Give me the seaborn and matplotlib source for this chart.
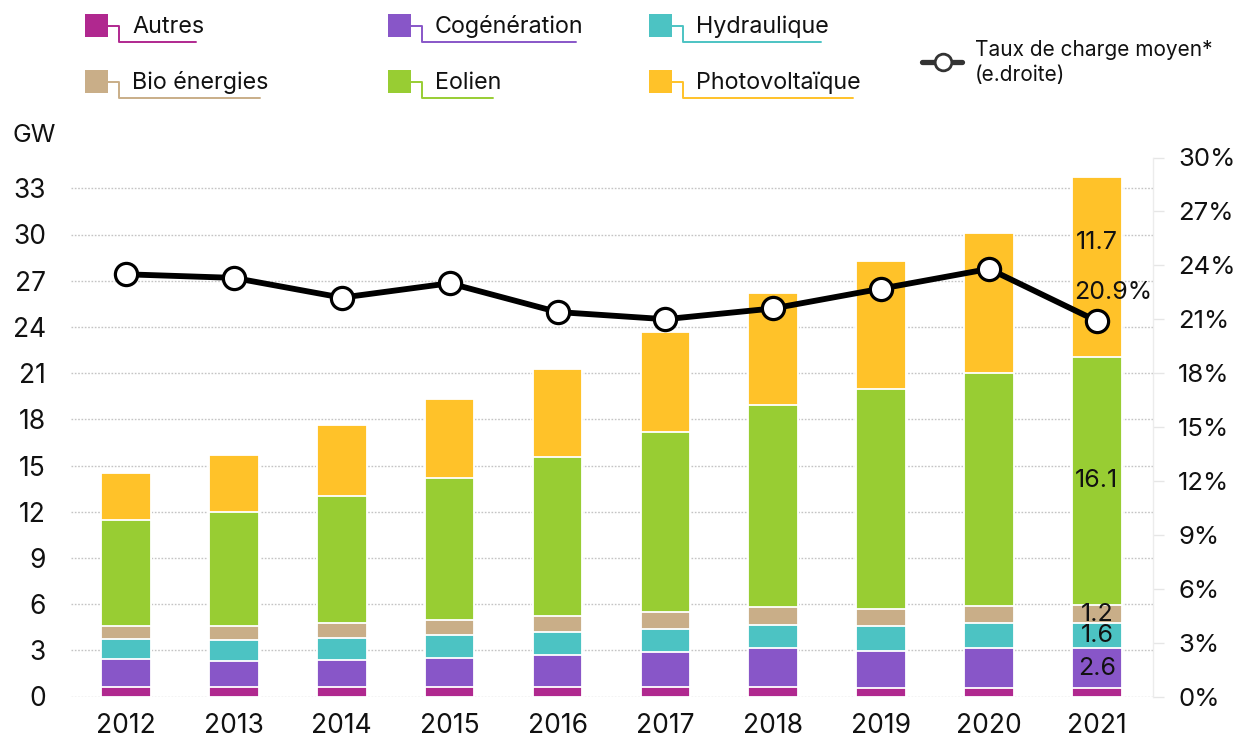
import numpy as np
import matplotlib
matplotlib.use("Agg")
import matplotlib.pyplot as plt
import seaborn as sns
from matplotlib.lines import Line2D
from matplotlib.patches import Rectangle
from matplotlib.ticker import FuncFormatter

# ---------------- data ----------------
years = ["2012", "2013", "2014", "2015", "2016", "2017", "2018", "2019", "2020", "2021"]
autres = [0.6, 0.6, 0.6, 0.6, 0.6, 0.6, 0.6, 0.55, 0.55, 0.55]
cogeneration = [1.85, 1.7, 1.75, 1.9, 2.1, 2.3, 2.55, 2.4, 2.6, 2.6]
hydraulique = [1.3, 1.4, 1.45, 1.5, 1.5, 1.5, 1.5, 1.6, 1.6, 1.6]
bio_energies = [0.85, 0.9, 0.95, 0.95, 1.0, 1.1, 1.15, 1.15, 1.15, 1.2]
eolien = [6.85, 7.4, 8.25, 9.25, 10.35, 11.7, 13.1, 14.3, 15.1, 16.1]
photovoltaique = [3.05, 3.7, 4.6, 5.15, 5.7, 6.45, 7.3, 8.3, 9.1, 11.7]
taux_charge = [23.5, 23.3, 22.2, 23.0, 21.4, 21.0, 21.6, 22.7, 23.8, 20.9]

series_names = ["Autres", "Cogénération", "Hydraulique", "Bio énergies", "Eolien", "Photovoltaïque"]
series_colors = ["#B0288F", "#8856C8", "#4CC3C3", "#C9AE88", "#98CD33", "#FFC229"]
line_label = ["Taux de charge moyen*", "(e.droite)"]
left_ticks = list(range(0, 34, 3))
right_ticks = list(range(0, 31, 3))

# ---------------- style ----------------
sns.set_theme(style="white")
plt.rcParams['font.family'] = ['Inter', 'DejaVu Sans']
plt.rcParams['text.color'] = '#111111'

W, H = 1240, 742
fig = plt.figure(figsize=(W / 100, H / 100), dpi=100)
fig.patch.set_facecolor("white")


def fx(x):
    return x / W


def fy(y):
    return 1 - y / H


ax = fig.add_axes([fx(71), fy(696.5), (1153 - 71) / W, (696.5 - 157.5) / H])

layers = [autres, cogeneration, hydraulique, bio_energies, eolien, photovoltaique]
cum = np.cumsum(np.array(layers), axis=0)
for i in reversed(range(len(layers))):
    sns.barplot(x=years, y=cum[i], color=series_colors[i], saturation=1,
                width=0.46, edgecolor="white", linewidth=1.3, errorbar=None,
                ax=ax, zorder=2)

ax.set_ylim(0, 35)
ax.set_yticks(left_ticks)
ax.set_xlim(-0.51, 9.52)
ax.set_xlabel("")
ax.set_ylabel("")
ax.set_axisbelow(True)
ax.yaxis.grid(True, color="#c4c4c4", linestyle=(0, (1.2, 1.2)), linewidth=1.0)
ax.xaxis.grid(False)
for s in ax.spines.values():
    s.set_visible(False)
ax.tick_params(axis="y", length=0, pad=18, labelsize=19, labelcolor="#111111")
ax.tick_params(axis="x", length=0, pad=12, labelsize=19, labelcolor="#111111")

# data labels for the last year
i_last = len(years) - 1
bottoms = np.vstack([np.zeros(len(years)), cum[:-1]])
for k in [1, 2, 3, 4]:
    val = layers[k][i_last]
    ymid = bottoms[k][i_last] + val / 2
    ax.text(i_last, ymid, f"{val:.1f}", ha="center", va="center", fontsize=18,
            color="#111111", zorder=6)
ax.text(i_last, 29.5, f"{photovoltaique[i_last]:.1f}", ha="center", va="center",
        fontsize=18, color="#111111", zorder=6)

# ---------------- right axis line ----------------
ax2 = ax.twinx()
sns.lineplot(x=np.arange(len(years)), y=taux_charge, ax=ax2, color="black",
             linewidth=4.2, marker="o", markersize=16, markerfacecolor="white",
             markeredgecolor="black", markeredgewidth=2.3, legend=False, zorder=5)
ax2.set_ylim(0, 30)
ax2.set_yticks(right_ticks)
ax2.yaxis.set_major_formatter(FuncFormatter(lambda v, p: f"{int(round(v))}%"))
ax2.set_ylabel("")
ax2.set_xlim(-0.51, 9.52)
for name, s in ax2.spines.items():
    s.set_visible(name == "right")
ax2.spines["right"].set_color("#ececec")
ax2.spines["right"].set_linewidth(1.0)
ax2.tick_params(axis="y", length=8, width=1, color="#e6e6e6", pad=10,
                labelsize=18.5, labelcolor="#111111")
ax2.text(9.15, 22.5, f"{taux_charge[i_last]:.1f}%", ha="center", va="center",
         fontsize=18, color="#111111", zorder=7)

fig.text(fx(12), fy(135), "GW", ha="left", va="center", fontsize=18, color="#111111")

# ---------------- legend ----------------
legend_pos = [(85, 25.5), (388, 25.5), (649, 25.5), (85, 81.5), (388, 81.5), (649, 81.5)]
texts = []
for j, (sx, sy) in enumerate(legend_pos):
    c = series_colors[j]
    fig.patches.append(Rectangle((fx(sx), fy(sy + 11.5)), 23 / W, 23 / H,
                                 transform=fig.transFigure, facecolor=c,
                                 edgecolor="none", figure=fig))
    t = fig.text(fx(sx + 47), fy(sy + 1.5), series_names[j], ha="left", va="center",
                 fontsize=16.8, color="#111111")
    texts.append((t, sx, sy, c))

fig.canvas.draw()
renderer = fig.canvas.get_renderer()
for t, sx, sy, c in texts:
    bb = t.get_window_extent(renderer)
    xend = bb.x1 - 8
    xs = [sx + 23, sx + 34, sx + 34, xend]
    ys = [sy, sy, sy + 16, sy + 16]
    fig.lines.append(Line2D([fx(v) for v in xs], [fy(v) for v in ys],
                            transform=fig.transFigure, color=c, linewidth=1.4,
                            figure=fig))

fig.lines.append(Line2D([fx(922), fx(962)], [fy(62), fy(62)], transform=fig.transFigure,
                        color="#333333", linewidth=3.8, figure=fig))
fig.lines.append(Line2D([fx(943)], [fy(62)], transform=fig.transFigure, marker="o",
                        markersize=12, markerfacecolor="white", markeredgecolor="#333333",
                        markeredgewidth=2, linestyle="none", figure=fig))
fig.text(fx(975), fy(50), line_label[0], ha="left", va="center", fontsize=15, color="#111111")
fig.text(fx(975), fy(75), line_label[1], ha="left", va="center", fontsize=15, color="#111111")

fig.savefig("out.png", dpi=100, facecolor="white")
